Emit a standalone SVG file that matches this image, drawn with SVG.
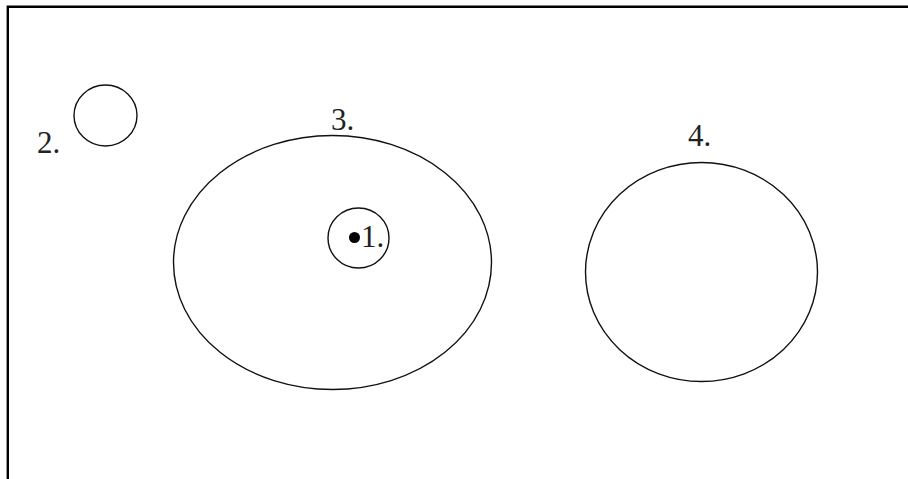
<svg xmlns="http://www.w3.org/2000/svg" width="908" height="479" viewBox="0 0 908 479">
<style>
.shape{fill:none;stroke:#111;stroke-width:1.4}
.lbl{font-family:"Liberation Serif","Times New Roman",serif;font-size:31px;fill:#222}
.frame{stroke:#000;stroke-width:2.4;fill:none}
</style>
<rect width="908" height="479" fill="#fff"/>
<g id="frame">
<path class="frame" d="M7.8,479 V6.7 H908"/>
</g>
<g id="node-2">
<ellipse class="shape" cx="105.5" cy="115.5" rx="31.5" ry="30.5"/>
<text class="lbl" x="37" y="153">2.</text>
</g>
<g id="node-3">
<ellipse class="shape" cx="332.5" cy="262.5" rx="159" ry="127"/>
<text class="lbl" x="331" y="130">3.</text>
</g>
<g id="node-1">
<ellipse class="shape" cx="358.5" cy="238" rx="30.5" ry="30"/>
<circle cx="354.5" cy="237.5" r="5.5" fill="#000"/>
<text class="lbl" x="361" y="247">1.</text>
</g>
<g id="node-4">
<ellipse class="shape" cx="701.5" cy="272" rx="116" ry="109.5"/>
<text class="lbl" x="688" y="146">4.</text>
</g>
<g id="connectors"></g>
</svg>
